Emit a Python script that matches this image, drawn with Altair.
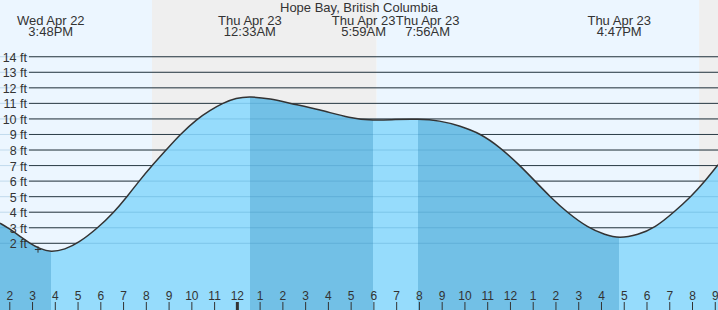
import altair as alt
import pandas as pd

# ---- data ----
# time in hours since Wed Apr 22 00:00, height in ft
curve_t = [13.57, 13.92, 14.45, 14.88, 15.32, 15.80, 16.43, 17.00, 17.88, 18.58, 19.15,
           19.68, 20.25, 20.87, 21.48, 22.23, 22.80, 23.33, 23.95, 24.55, 25.45, 26.32,
           27.63, 28.95, 29.98, 30.93, 31.93, 32.89, 33.79, 34.67, 35.55, 36.42, 37.08,
           37.74, 38.48, 39.41, 40.16, 40.78, 41.61, 42.35, 43.18, 43.93, 44.55, 45.12]
curve_h = [3.29, 3.0, 2.45, 2.0, 1.65, 1.42, 1.61, 2.0, 3.0, 4.0, 5.0,
           6.0, 7.0, 8.0, 9.0, 10.0, 10.55, 11.0, 11.35, 11.45, 11.3, 11.0,
           10.6, 10.04, 9.9, 9.97, 10.0, 9.9, 9.55, 9.07, 8.17, 7.0, 6.0,
           5.0, 4.0, 3.0, 2.55, 2.32, 2.55, 3.0, 4.0, 5.0, 6.0, 7.05]

event_t = [15.80, 24.55, 29.98, 31.93, 40.78]
event_day = ["Wed Apr 22", "Thu Apr 23", "Thu Apr 23", "Thu Apr 23", "Thu Apr 23"]
event_time = ["3:48PM", "12:33AM", "5:59AM", "7:56AM", "4:47PM"]

band_start = [13.57, 20.25, 30.12, 44.29]
band_end = [20.25, 30.12, 44.29, 45.12]
band_kind = ["day", "night", "day", "night"]

grid_ft = list(range(2, 15))
hours = list(range(14, 46))

now_t = [15.24]
now_h = [1.6]

title_text = "Hope Bay, British Columbia"

# ---- scales ----
T0, T1 = 13.57, 45.12
H0, H1 = -2.29, 17.65
xs = alt.Scale(domain=[T0, T1], nice=False, zero=False)
ys = alt.Scale(domain=[H0, H1], nice=False, zero=False)

FONT = "Liberation Sans"
TXT = "#333333"
INTERP = "basis"

curve_df = pd.DataFrame({"t": curve_t, "h": curve_h})
bands_df = pd.DataFrame({"t": band_start, "t2": band_end, "kind": band_kind})
grid_df = pd.DataFrame({"h": grid_ft, "lab": [f"{g} ft" for g in grid_ft]})
hours_df = pd.DataFrame({"t": hours, "lab": [str((h - 1) % 12 + 1) for h in hours]})
now_df = pd.DataFrame({"t": now_t, "h": now_h})

# push crowded event labels apart (label width ~ 64 px)
px_per_h = 718 / (T1 - T0)
min_gap = 64 / px_per_h
lab_t = list(event_t)
for i in range(1, len(lab_t)):
    gap = lab_t[i] - lab_t[i - 1]
    if gap < min_gap:
        push = (min_gap - gap) / 2
        lab_t[i - 1] -= push
        lab_t[i] += push
events_df = pd.DataFrame({"t": lab_t, "day": event_day, "time": event_time})

# fill gradient: dark while falling, light while rising
DARK, LIGHT = "#72c0e6", "#96dcfc"
stops = []
seg_edges = [T0] + event_t + [T1]
for i in range(len(seg_edges) - 1):
    col = DARK if i % 2 == 0 else LIGHT
    o1 = (seg_edges[i] - T0) / (T1 - T0)
    o2 = (seg_edges[i + 1] - T0) / (T1 - T0)
    stops.append(alt.GradientStop(color=col, offset=o1))
    stops.append(alt.GradientStop(color=col, offset=o2))
grad = alt.Gradient(gradient="linear", stops=stops, x1=0, x2=1, y1=0, y2=0)

bands = alt.Chart(bands_df).mark_rect().encode(
    x=alt.X("t:Q", scale=xs, axis=None),
    x2="t2:Q",
    y=alt.value(0),
    y2=alt.value(310),
    color=alt.Color("kind:N", scale=alt.Scale(domain=["day", "night"], range=["#ecf6ff", "#efefef"]), legend=None),
)

grid_dark = alt.Chart(grid_df).mark_rule(color="#333333", strokeWidth=1).encode(
    x=alt.value(29), x2=alt.value(718),
    y=alt.Y("h:Q", scale=ys, axis=None),
)

area = alt.Chart(curve_df).mark_area(interpolate=INTERP, color=grad).encode(
    x=alt.X("t:Q", scale=xs, axis=None),
    y=alt.Y("h:Q", scale=ys, axis=None),
    y2=alt.datum(H0),
)

grid_light = alt.Chart(grid_df).mark_rule(color="#1a6fa0", opacity=0.2, strokeWidth=1).encode(
    x=alt.value(0), x2=alt.value(718),
    y=alt.Y("h:Q", scale=ys, axis=None),
)

line = alt.Chart(curve_df).mark_line(interpolate=INTERP, color="#333333", strokeWidth=1.5).encode(
    x=alt.X("t:Q", scale=xs, axis=None),
    y=alt.Y("h:Q", scale=ys, axis=None),
)

grid_labels = alt.Chart(grid_df).mark_text(
    align="right", baseline="middle", font=FONT, fontSize=12.5, color=TXT, dy=1
).encode(
    x=alt.value(27),
    y=alt.Y("h:Q", scale=ys, axis=None),
    text="lab:N",
)

now_mark = alt.Chart(now_df).mark_point(
    shape="M-1,0L1,0M0,-1L0,1", filled=False, color="#333333", strokeWidth=1, size=40, opacity=1
).encode(
    x=alt.X("t:Q", scale=xs, axis=None),
    y=alt.Y("h:Q", scale=ys, axis=None),
)

hour_ticks = alt.Chart(hours_df).mark_rule(color="#333333").encode(
    x=alt.X("t:Q", scale=xs, axis=None),
    y=alt.value(302), y2=alt.value(310),
    strokeWidth=alt.condition("datum.t % 24 == 0", alt.value(3), alt.value(1)),
)

hour_labels = alt.Chart(hours_df).mark_text(
    align="center", baseline="alphabetic", font=FONT, fontSize=12, color=TXT
).encode(
    x=alt.X("t:Q", scale=xs, axis=None),
    y=alt.value(300),
    text="lab:N",
)

ev_day = alt.Chart(events_df).mark_text(
    align="center", baseline="alphabetic", font=FONT, fontSize=13, color=TXT
).encode(
    x=alt.X("t:Q", scale=xs, axis=None),
    y=alt.value(24.5),
    text="day:N",
)

ev_time = alt.Chart(events_df).mark_text(
    align="center", baseline="alphabetic", font=FONT, fontSize=13, color=TXT
).encode(
    x=alt.X("t:Q", scale=xs, axis=None),
    y=alt.value(36),
    text="time:N",
)

title = alt.Chart(pd.DataFrame({"s": [title_text]})).mark_text(
    align="center", baseline="alphabetic", font=FONT, fontSize=13, color=TXT
).encode(
    x=alt.value(359),
    y=alt.value(12),
    text="s:N",
)

chart = alt.layer(
    bands, grid_dark, area, grid_light, line, grid_labels, now_mark,
    hour_ticks, hour_labels, ev_day, ev_time, title
).properties(
    width=718, height=310, padding=0, autosize=alt.AutoSizeParams(type="none")
).configure_view(stroke=None)

chart.save("out.html", embed_options={"renderer": "svg", "actions": False})
